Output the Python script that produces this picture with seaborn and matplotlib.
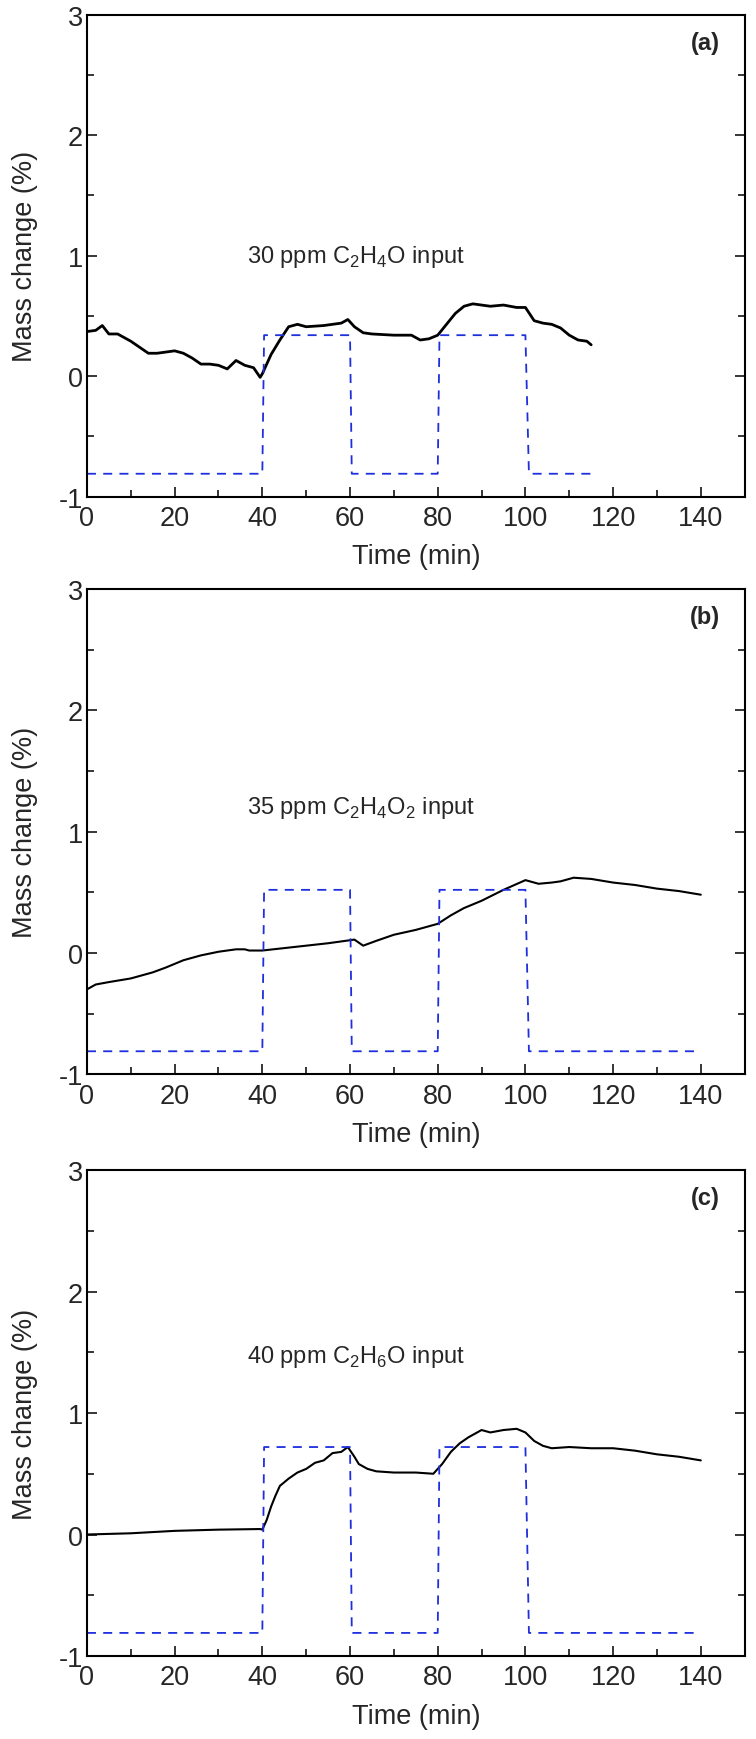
"""Mass change response of the sensor to three VOC pulses (a)-(c)."""
import numpy as np
import pandas as pd
import seaborn as sns
import matplotlib.pyplot as plt
from matplotlib import font_manager
from matplotlib.ticker import MultipleLocator

# ---- data ----
time_a = [0, 2, 3.5, 5, 7, 10, 12, 14, 16, 18, 20, 22, 24, 26, 28, 30, 32, 34, 36, 38,
          39.5, 40, 42, 44, 46, 48, 50, 54, 56, 58, 59.5, 61, 63, 65, 70, 74, 76, 78, 80,
          82, 84, 86, 88, 92, 95, 98, 100, 102, 104, 106, 108, 110, 112, 114, 115]
mass_a = [0.37, 0.38, 0.42, 0.35, 0.35, 0.29, 0.24, 0.19, 0.19, 0.20, 0.21, 0.19, 0.15,
          0.10, 0.10, 0.09, 0.06, 0.13, 0.09, 0.07, -0.01, 0.02, 0.18, 0.30, 0.41, 0.43,
          0.41, 0.42, 0.43, 0.44, 0.47, 0.41, 0.36, 0.35, 0.34, 0.34, 0.30, 0.31, 0.34,
          0.43, 0.52, 0.58, 0.60, 0.58, 0.59, 0.57, 0.57, 0.46, 0.44, 0.43, 0.40, 0.34,
          0.30, 0.29, 0.26]

time_b = [0, 2, 5, 10, 15, 18, 22, 26, 30, 34, 36, 37, 40, 45, 50, 55, 59, 61, 63, 66,
          70, 75, 80, 83, 86, 90, 95, 100, 103, 106, 108, 111, 115, 120, 125, 130, 135, 140]
mass_b = [-0.30, -0.26, -0.24, -0.21, -0.16, -0.12, -0.06, -0.02, 0.01, 0.03, 0.03, 0.02,
          0.02, 0.04, 0.06, 0.08, 0.10, 0.11, 0.06, 0.10, 0.15, 0.19, 0.24, 0.31, 0.37,
          0.43, 0.52, 0.60, 0.57, 0.58, 0.59, 0.62, 0.61, 0.58, 0.56, 0.53, 0.51, 0.48]

time_c = [0, 10, 20, 30, 39.5, 40, 41, 42, 43, 44, 46, 48, 50, 52, 54, 56, 58, 59.5, 61,
          62, 64, 66, 70, 75, 79, 80, 81, 83, 85, 87, 90, 92, 95, 98, 100, 102, 104, 106,
          110, 115, 120, 125, 130, 135, 140]
mass_c = [0.00, 0.01, 0.03, 0.04, 0.045, 0.04, 0.12, 0.23, 0.32, 0.40, 0.46, 0.51, 0.54,
          0.59, 0.61, 0.67, 0.68, 0.72, 0.64, 0.58, 0.54, 0.52, 0.51, 0.51, 0.50, 0.54,
          0.58, 0.68, 0.75, 0.80, 0.86, 0.84, 0.86, 0.87, 0.84, 0.77, 0.73, 0.71, 0.72,
          0.71, 0.71, 0.69, 0.66, 0.64, 0.61]

# gas input on/off profile (dashed)
gas_time_a = [0, 40, 40.4, 60, 60.4, 80, 80.4, 100, 100.8, 115]
gas_time_bc = [0, 40, 40.4, 60, 60.4, 80, 80.4, 100, 100.8, 140]
gas_low = -0.81
gas_high = [0.34, 0.52, 0.72]

labels = ["30 ppm C$_\\mathregular{2}$H$_\\mathregular{4}$O input",
          "35 ppm C$_\\mathregular{2}$H$_\\mathregular{4}$O$_\\mathregular{2}$ input",
          "40 ppm C$_\\mathregular{2}$H$_\\mathregular{6}$O input"]
panel_tags = ["(a)", "(b)", "(c)"]
label_y = [1.0, 1.2, 1.47]


def gas_profile(times, high):
    on = [gas_low, gas_low, high, high, gas_low, gas_low, high, high, gas_low, gas_low]
    return pd.DataFrame({"t": times, "v": on})


def has_font(name):
    try:
        font_manager.findfont(name, fallback_to_default=False)
        return True
    except Exception:
        return False


sns.set_style("ticks")
plt.rcParams["font.family"] = ["Liberation Sans", "DejaVu Sans"]
plt.rcParams["mathtext.fontset"] = "custom"
plt.rcParams["mathtext.rm"] = "Liberation Sans"
plt.rcParams["axes.unicode_minus"] = False

# the axis numbers in the original use a condensed face
if has_font("Liberation Sans Narrow"):
    narrow, tick_size = "Liberation Sans Narrow", 22
else:
    narrow, tick_size = "Liberation Sans", 19.5

fig = plt.figure(figsize=(7.56, 17.4), dpi=100)
rects = [(0.115, 0.714, 0.870, 0.277),
         (0.115, 0.382, 0.870, 0.279),
         (0.115, 0.0477, 0.870, 0.2793)]

curves = [(time_a, mass_a, 2.0), (time_b, mass_b, 1.5), (time_c, mass_c, 1.5)]
gas_times = [gas_time_a, gas_time_bc, gas_time_bc]

for i, rect in enumerate(rects):
    ax = fig.add_axes(rect)
    t, m, lw = curves[i]
    df = pd.DataFrame({"t": t, "m": m})
    sns.lineplot(data=df, x="t", y="m", ax=ax, color="black", lw=lw,
                 sort=False, estimator=None)
    g = gas_profile(gas_times[i], gas_high[i])
    sns.lineplot(data=g, x="t", y="v", ax=ax, color="#1f2fdd", lw=1.3,
                 linestyle=(0, (5, 4)), sort=False, estimator=None)

    ax.set_xlim(0, 150)
    ax.set_ylim(-1, 3)
    ax.xaxis.set_major_locator(MultipleLocator(20))
    ax.xaxis.set_minor_locator(MultipleLocator(10))
    ax.yaxis.set_major_locator(MultipleLocator(1))
    ax.yaxis.set_minor_locator(MultipleLocator(0.5))
    ax.tick_params(which="both", direction="in", top=False, right=True,
                   width=1.3, pad=6)
    ax.tick_params(axis="y", which="both", pad=3)
    ax.tick_params(which="major", length=7)
    ax.tick_params(which="minor", length=5)
    for lab in ax.get_xticklabels() + ax.get_yticklabels():
        lab.set_fontfamily(narrow)
        lab.set_fontsize(tick_size)
    for sp in ax.spines.values():
        sp.set_linewidth(1.5)
        sp.set_color("black")

    ax.set_xlabel("Time (min)", fontsize=tick_size, fontfamily=narrow)
    ax.xaxis.set_label_coords(0.5, -0.097)
    ax.set_ylabel("Mass change (%)", fontsize=19.5)
    ax.yaxis.set_label_coords(-0.074, 0.5)

    ax.text(36.5, label_y[i], labels[i], fontsize=17, va="center", ha="left")
    ax.text(141, 2.77, panel_tags[i], fontsize=17, fontweight="bold",
            va="center", ha="center")

fig.savefig("out.png", dpi=100)
